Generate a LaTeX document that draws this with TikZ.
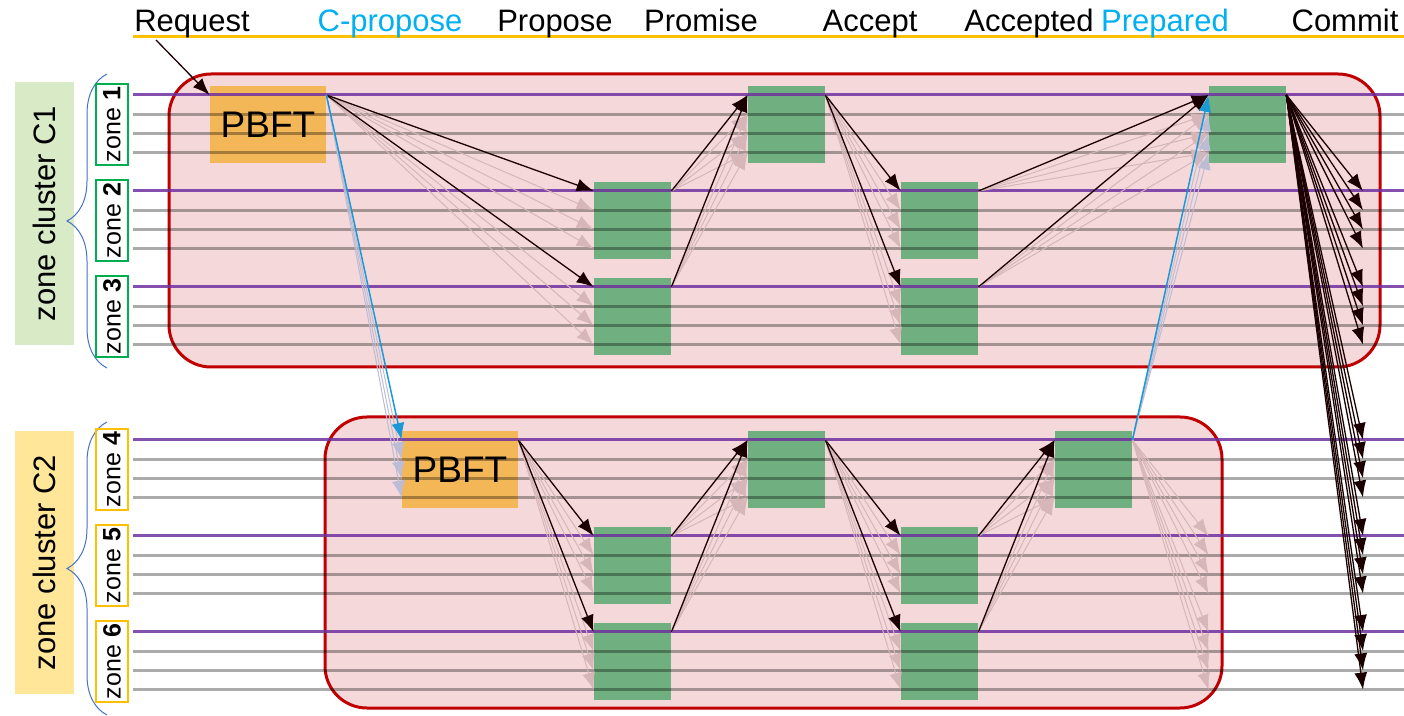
\documentclass[tikz,border=0pt]{standalone}
\usepackage{fontspec}
\setmainfont{Liberation Sans}
\usepackage{xcolor}
\usepackage{tikz}
\usetikzlibrary{arrows.meta,decorations.pathreplacing}

\definecolor{pinkfill}{RGB}{245,217,218}
\definecolor{redline}{RGB}{192,0,0}
\definecolor{purp}{RGB}{112,48,160}
\definecolor{gold}{RGB}{255,192,0}
\definecolor{cyanlab}{RGB}{0,176,240}
\definecolor{boxgreen}{RGB}{112,176,128}
\definecolor{boxorange}{RGB}{244,183,87}
\definecolor{lightpink}{RGB}{214,182,184}
\definecolor{lavender}{RGB}{188,188,212}
\definecolor{bluearr}{RGB}{27,152,214}
\definecolor{darkarr}{RGB}{26,0,0}
\definecolor{zonegreen}{RGB}{0,176,80}
\definecolor{zonegold}{RGB}{255,192,0}
\definecolor{clgreen}{RGB}{216,234,198}
\definecolor{clyellow}{RGB}{255,230,153}
\definecolor{bracecol}{RGB}{68,114,196}

\begin{document}
\begin{tikzpicture}[x=0.5pt,y=-0.5pt,>={Latex[length=8.5pt,width=6.5pt]},
  font=\fontsize{15.5}{18}\selectfont,
  gbox/.style={fill=boxgreen,minimum width=38.5pt,minimum height=38.5pt,inner sep=0pt},
  obox/.style={fill=boxorange,minimum width=58pt,minimum height=38.5pt,inner sep=0pt,font=\fontsize{18.5}{20}\selectfont},
  zlab/.style={draw,line width=1pt,rotate=90,minimum width=40.5pt,minimum height=16pt,inner sep=0pt,font=\fontsize{12.5}{14}\selectfont},
  clab/.style={rotate=90,minimum width=131.5pt,minimum height=29.5pt,inner sep=0pt},
  cluster/.style={draw=redline,fill=pinkfill,line width=1.5pt,rounded corners=21pt},
  blk/.style={->,draw=darkarr,line width=0.65pt},
  lgt/.style={->,draw=lightpink,line width=0.5pt},
  blu/.style={->,draw=bluearr,line width=0.75pt},
  lav/.style={->,draw=lavender,line width=0.5pt},
  pline/.style={purp,opacity=0.85,line width=1.5pt},
  gline/.style={black,opacity=0.33,line width=1.5pt},
  brc/.style={draw=bracecol,line width=0.5pt,decorate,decoration={brace,amplitude=20pt}}]
\path[use as bounding box] (0,0) rectangle (1404,716);

% phase labels
\draw[gold,line width=1.5pt] (133,37) -- (1404,37);
\foreach \n/\x/\t/\c in {hreq/192/Request/black,hcp/390/C-propose/cyanlab,
    hprop/555/Propose/black,hprom/701/Promise/black,hacc/870/Accept/black,
    hacd/1029/Accepted/black,hprep/1165/Prepared/cyanlab,hcom/1345/Commit/black}
  \node[anchor=base,text=\c,inner sep=0pt] (\n) at (\x,32) {\t};

% zone clusters
\draw[cluster] (169,74) rectangle (1380,367);
\draw[cluster] (325,417) rectangle (1222,708);

\node[clab,fill=clgreen] (cl1) at (44.5,213.5) {zone cluster C1};
\node[clab,fill=clyellow] (cl2) at (44.5,562.5) {zone cluster C2};
\draw[brc] (107,368) -- (107,74);
\draw[brc] (107,715) -- (107,422);

% zones and their replica lines
\foreach \z/\y/\c in {1/95/zonegreen,2/191/zonegreen,3/287/zonegreen,
    4/440/zonegold,5/536/zonegold,6/632/zonegold}{
  \node[zlab,draw=\c] (zn\z) at (112,\y+29.5) {zone \textbf{\z}};
  \foreach \k in {0,1,2,3}
    \coordinate (l\z-\k) at (133,{\y+19.2*\k});
}

% steps in C1
\node[obox] (pbft1) at (268,124.5) {PBFT};
\node[gbox] (prop2) at (632.5,220.5) {};
\node[gbox] (prop3) at (632.5,316.5) {};
\node[gbox] (prom1) at (786.5,124.5) {};
\node[gbox] (acc2) at (939.5,220.5) {};
\node[gbox] (acc3) at (939.5,316.5) {};
\node[gbox] (prep1) at (1247.5,124.5) {};

% steps in C2
\node[obox] (pbft4) at (460,469.5) {PBFT};
\node[gbox] (prop5) at (632.5,565.5) {};
\node[gbox] (prop6) at (632.5,661.5) {};
\node[gbox] (prom4) at (786.5,469.5) {};
\node[gbox] (acc5) at (939.5,565.5) {};
\node[gbox] (acc6) at (939.5,661.5) {};
\node[gbox] (acd4) at (1093.5,469.5) {};

\foreach \z in {1,...,6}{
  \draw[pline] (l\z-0) -- ++(1271,0);
  \foreach \k in {1,2,3}
    \draw[gline] (l\z-\k) -- ++(1271,0);
}

% request
\coordinate (reqtail) at (156,40);
\draw[blk] (reqtail) -- (pbft1.west |- l1-0);

% pbft -> propose, promise -> accept
\foreach \a/\s/\b/\z in {pbft1/1/prop2/2,pbft1/1/prop3/3,prom1/1/acc2/2,prom1/1/acc3/3,
    pbft4/4/prop5/5,pbft4/4/prop6/6,prom4/4/acc5/5,prom4/4/acc6/6}{
  \foreach \k in {1,2,3}
    \draw[lgt] (\a.east |- l\s-0) -- (\b.west |- l\z-\k);
  \draw[blk] (\a.east |- l\s-0) -- (\b.west |- l\z-0);
}

% propose -> promise, accept -> accepted
\foreach \a/\z/\b/\s in {prop2/2/prom1/1,prop3/3/prom1/1,acc2/2/prep1/1,acc3/3/prep1/1,
    prop5/5/prom4/4,prop6/6/prom4/4,acc5/5/acd4/4,acc6/6/acd4/4}{
  \foreach \k in {1,2,3}
    \draw[lgt] (\a.east |- l\z-0) -- (\b.west |- l\s-\k);
  \draw[blk] (\a.east |- l\z-0) -- (\b.west |- l\s-0);
}

% C-propose
\foreach \k in {1,2,3}
  \draw[lav] (pbft1.east |- l1-0) -- (pbft4.west |- l4-\k);
\draw[blu] (pbft1.east |- l1-0) -- (pbft4.west |- l4-0);

% prepared
\foreach \z in {5,6}
  \foreach \k in {0,1,2,3}
    \draw[lgt] (acd4.east |- l4-0) -- (prep1.west |- l\z-\k);
\foreach \k in {1,2,3}
  \draw[lav] (acd4.east |- l4-0) -- (prep1.west |- l1-\k);
\draw[blu] (acd4.east |- l4-0) -- (prep1.west |- l1-0);

% commit
\coordinate (cmt) at (1363,0);
\foreach \z in {2,...,6}
  \foreach \k in {0,1,2,3}
    \draw[blk] (prep1.east |- l1-0) -- (cmt |- l\z-\k);
\end{tikzpicture}
\end{document}
